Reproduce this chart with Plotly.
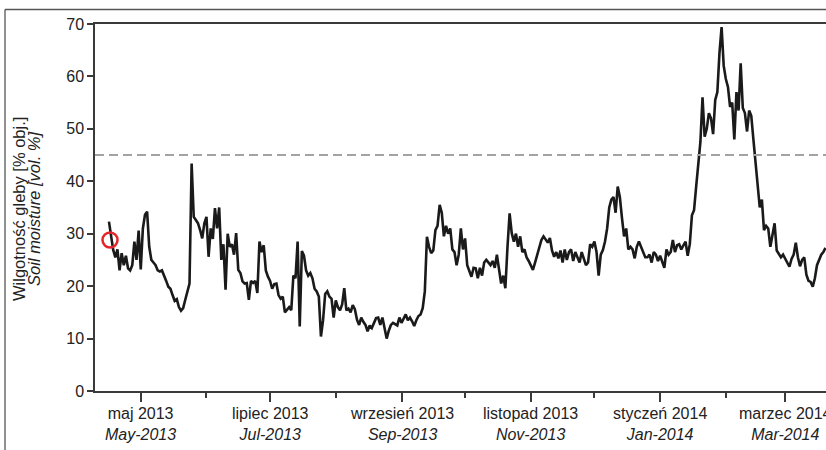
import pandas as pd
import plotly.graph_objects as go

# Daily soil moisture series [vol. %], starting on start_date
start_date = "2013-04-16"
soil_moisture = [
    32.3, 29.5, 26.9, 25.5, 27.0, 23.0, 26.3, 24.0, 25.8, 23.4,
    23.0, 24.0, 28.5, 25.0, 30.6, 23.2, 31.0, 33.6, 34.2, 27.5,
    25.0, 24.5, 24.0, 23.0, 22.8, 23.0, 21.8, 21.0, 19.9, 19.5,
    18.3, 17.2, 17.5, 16.0, 15.3, 15.8, 17.4, 18.9, 20.5, 43.4,
    33.2, 32.6, 32.0, 30.7, 29.1, 32.0, 33.2, 25.6, 31.0, 29.0,
    34.9, 31.0, 35.0, 25.0, 28.0, 19.3, 30.0, 27.5, 28.0, 26.0,
    30.1, 23.1, 22.5, 20.9, 20.5, 20.6, 17.4, 21.0, 20.6, 21.0,
    18.7, 28.5, 26.5, 27.8, 23.0, 21.8, 21.0, 19.5, 20.4, 20.5,
    18.3, 17.6, 18.0, 15.0, 15.4, 16.0, 15.4, 22.0, 21.5, 28.5,
    12.3, 26.7, 25.8, 23.0, 22.0, 22.5, 21.5, 19.5, 19.0, 18.0,
    10.4, 13.5, 18.5, 19.0, 18.0, 17.6, 14.0, 17.3, 16.0, 15.4,
    16.5, 19.6, 15.4, 15.7, 15.0, 16.4, 15.6, 13.6, 12.6, 14.0,
    13.2, 12.6, 11.4, 12.5, 12.0, 12.8, 13.9, 14.0, 12.6, 14.0,
    11.8, 10.0, 11.5, 12.6, 13.0, 12.7, 12.5, 14.0, 13.0, 13.8,
    14.6, 13.5, 14.0, 13.3, 12.4, 13.5, 14.3, 14.6, 15.8, 19.0,
    29.4, 27.5, 26.3, 26.8, 30.7, 31.5, 35.5, 34.0, 29.5, 31.5,
    30.0, 31.0, 27.0, 26.5, 24.0, 26.0, 31.0, 27.0, 29.1, 24.0,
    23.0, 21.8, 23.5, 23.4, 21.5, 23.5, 22.0, 24.5, 25.0, 24.4,
    24.0, 24.8, 23.5, 26.0, 23.5, 20.5, 22.0, 19.6, 27.5, 33.9,
    30.1, 28.5, 30.0, 27.5, 29.5, 26.5, 27.0, 25.5, 24.8, 24.0,
    23.1, 24.5, 25.8, 27.5, 28.8, 29.5, 29.0, 28.3, 29.2, 26.8,
    25.6, 26.5, 25.3, 26.8, 24.5, 27.0, 25.0, 26.5, 27.0, 24.8,
    26.5, 25.5, 24.5, 26.5, 25.3, 24.0, 24.5, 28.0, 27.5, 28.5,
    26.5, 22.0, 26.0, 26.9, 28.5, 31.0, 35.0, 36.5, 37.0, 34.0,
    39.0, 37.0, 33.0, 29.5, 31.0, 27.0, 27.5, 27.0, 25.3, 27.5,
    28.5, 27.5, 26.3, 25.5, 25.5, 26.0, 24.5, 26.5, 26.0, 24.8,
    25.8, 24.5, 23.5, 27.0, 26.0, 26.5, 28.8, 26.5, 27.8, 28.0,
    27.0, 27.8, 28.5, 25.8, 28.0, 33.5, 34.5, 39.0, 44.0, 47.5,
    56.0, 48.5, 50.0, 53.0, 52.0, 49.0, 55.5, 57.0, 64.5, 69.4,
    62.0, 59.5, 58.0, 54.2, 55.0, 48.0, 57.0, 53.5, 62.5, 54.0,
    53.0, 49.5, 53.5, 52.5, 48.0, 43.5, 40.5, 35.0, 36.5, 30.7,
    31.5, 31.0, 27.5, 29.5, 32.0, 26.8, 26.0, 25.5, 26.0, 25.3,
    24.5, 23.7, 25.2, 26.0, 28.3, 25.5, 23.8, 25.0, 25.5, 22.2,
    21.0, 20.8, 19.9, 21.5, 24.0, 25.0, 26.0, 26.5, 27.3,
]
dates = pd.date_range(start=start_date, periods=len(soil_moisture), freq="D")

# Field capacity threshold and the reference sample point
threshold = 45
sample_date = "2013-04-16 12:00"
sample_value = 28.8

# Axis ticks
tick_dates = ["2013-05-01", "2013-07-01", "2013-09-01",
              "2013-11-01", "2014-01-01", "2014-03-01"]
tick_pl = ["maj 2013", "lipiec 2013", "wrzesień 2013",
           "listopad 2013", "styczeń 2014", "marzec 2014"]
tick_en = ["May-2013", "Jul-2013", "Sep-2013",
           "Nov-2013", "Jan-2014", "Mar-2014"]
minor_dates = ["2013-06-01", "2013-08-01", "2013-10-01",
               "2013-12-01", "2014-02-01"]
y_ticks = [0, 10, 20, 30, 40, 50, 60, 70]
x_range = ["2013-04-09 10:00", "2014-03-20 06:00"]
y_range = [0, 70]

FONT = "Liberation Sans, Arial, Helvetica, sans-serif"
AXIS = "#3a3a3a"
TEXT = "#222222"

fig = go.Figure()
fig.add_trace(go.Scatter(
    x=dates, y=soil_moisture, mode="lines",
    line=dict(color="#1a1a1a", width=2.6),
    hoverinfo="x+y",
))
fig.add_trace(go.Scatter(
    x=[sample_date], y=[sample_value], mode="markers",
    marker=dict(symbol="circle-open", size=15, color="#e3262b",
                line=dict(width=2.5, color="#e3262b")),
))

# dashed threshold line
fig.add_shape(type="line", xref="paper", x0=0, x1=1, yref="y",
              y0=threshold, y1=threshold,
              line=dict(color="#a3a3a3", width=2, dash="9px,5px"))

# outer frame (left and top edges)
fx = (5 - 95) / 731
fy = (391 - 9.5) / 367
fig.add_shape(type="line", xref="paper", yref="paper",
              x0=fx, x1=fx, y0=-0.2, y1=fy,
              line=dict(color="#555555", width=1.3))
fig.add_shape(type="line", xref="paper", yref="paper",
              x0=fx, x1=1.05, y0=fy, y1=fy,
              line=dict(color="#555555", width=1.3))

# two-line y-axis title
fig.add_annotation(text="Wilgotność gleby [% obj.]", textangle=-90,
                   xref="paper", yref="paper", x=(19 - 95) / 731, y=0.496,
                   xanchor="center", yanchor="middle", showarrow=False,
                   font=dict(family=FONT, size=16.5, color=TEXT))
fig.add_annotation(text="<i>Soil moisture [vol. %]</i>", textangle=-90,
                   xref="paper", yref="paper", x=(34 - 95) / 731, y=0.496,
                   xanchor="center", yanchor="middle", showarrow=False,
                   font=dict(family=FONT, size=16.5, color=TEXT))

# bilingual month labels, centred under each major tick
for d, pl, en in zip(tick_dates, tick_pl, tick_en):
    fig.add_annotation(text=f"{pl}<br><i>{en}</i>", x=d, xref="x",
                       y=-0.033, yref="paper", xanchor="center",
                       yanchor="top", showarrow=False, align="center",
                       font=dict(family=FONT, size=16, color=TEXT))

fig.update_layout(
    width=826, height=450,
    margin=dict(l=95, r=0, t=24, b=59),
    paper_bgcolor="white", plot_bgcolor="white",
    showlegend=False,
    font=dict(family=FONT, size=16, color=TEXT),
    xaxis=dict(
        type="date", range=x_range,
        tickmode="array", tickvals=tick_dates, showticklabels=False,
        ticks="outside", ticklen=9, tickwidth=1.5, tickcolor=AXIS,
        showline=True, linecolor=AXIS, linewidth=1.5, mirror=True,
        showgrid=False, zeroline=False,
        minor=dict(tickmode="array", tickvals=minor_dates, ticks="outside",
                   ticklen=5, tickwidth=1.5, tickcolor=AXIS, showgrid=False),
    ),
    yaxis=dict(
        range=y_range, tickmode="array", tickvals=y_ticks,
        ticks="outside", ticklen=6, tickwidth=1.5, tickcolor=AXIS,
        showline=True, linecolor=AXIS, linewidth=1.5,
        showgrid=False, zeroline=False,
        tickfont=dict(family=FONT, size=16, color=TEXT),
    ),
)

fig.write_html("out.html")
